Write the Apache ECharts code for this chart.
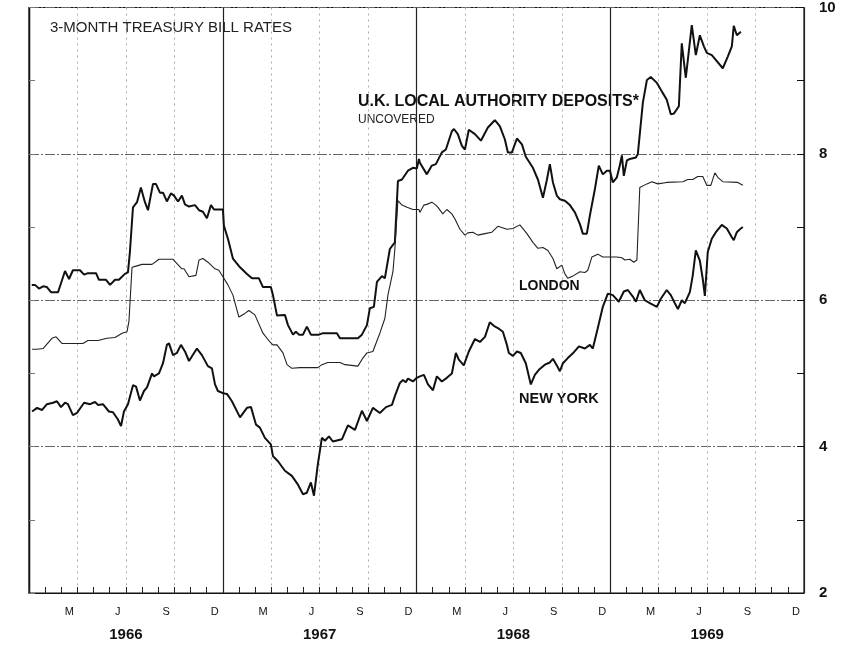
<!DOCTYPE html>
<html>
<head>
<meta charset="UTF-8">
<title>3-Month Treasury Bill Rates</title>
<script src="https://cdn.jsdelivr.net/npm/echarts@6/dist/echarts.min.js"></script>
<style>
  html, body { margin: 0; padding: 0; background: #fff; }
  #chart { width: 844px; height: 645px; }
</style>
</head>
<body>
<div id="chart"></div>
<script>
// x = months since Jan 1966, y = per cent
var ukDeposits = [
  [0.17,6.21],[0.37,6.21],[0.62,6.16],[0.87,6.19],[1.11,6.18],[1.36,6.11],[1.80,6.11],[2.23,6.40],[2.48,6.29],[2.72,6.41],
  [3.16,6.41],[3.41,6.35],[3.65,6.37],[4.15,6.37],[4.33,6.28],[4.77,6.28],[5.02,6.21],[5.33,6.28],[5.57,6.28],[5.94,6.36],
  [6.13,6.38],[6.25,6.66],[6.44,7.27],[6.69,7.34],[6.93,7.54],[7.18,7.34],[7.37,7.23],[7.68,7.59],[7.86,7.59],[8.11,7.47],
  [8.30,7.47],[8.54,7.35],[8.79,7.46],[8.98,7.43],[9.23,7.35],[9.47,7.43],[9.66,7.31],[9.91,7.28],[10.28,7.30],[10.53,7.23],
  [10.77,7.21],[11.02,7.12],[11.27,7.30],[11.46,7.24],[12.01,7.24],[12.07,7.02],[12.32,6.84],[12.63,6.57],[13.07,6.45],[13.50,6.36],
  [13.81,6.30],[14.24,6.30],[14.49,6.18],[14.98,6.18],[15.11,6.07],[15.36,5.79],[15.85,5.80],[16.04,5.66],[16.35,5.53],[16.53,5.57],
  [16.72,5.53],[16.97,5.53],[17.21,5.64],[17.46,5.53],[17.96,5.53],[18.20,5.55],[19.07,5.55],[19.26,5.48],[20.37,5.48],[20.62,5.53],
  [20.93,5.66],[21.11,5.89],[21.36,5.91],[21.55,6.25],[21.86,6.33],[22.04,6.30],[22.35,6.70],[22.66,6.79],[22.85,7.63],[23.10,7.65],
  [23.47,7.77],[23.78,7.81],[24.02,7.80],[24.15,7.93],[24.21,7.88],[24.64,7.72],[24.95,7.84],[25.20,7.86],[25.57,8.02],[25.82,8.06],
  [26.19,8.31],[26.32,8.34],[26.56,8.27],[26.81,8.11],[27.00,8.06],[27.24,8.33],[27.62,8.27],[27.99,8.18],[28.42,8.36],[28.85,8.46],
  [29.16,8.38],[29.47,8.20],[29.66,8.02],[29.91,8.02],[30.22,8.21],[30.53,8.13],[30.77,7.96],[31.21,7.81],[31.52,7.65],[31.83,7.40],
  [32.07,7.64],[32.26,7.86],[32.45,7.61],[32.69,7.43],[32.88,7.38],[33.19,7.36],[33.50,7.30],[33.81,7.20],[34.12,7.04],[34.30,6.91],
  [34.55,6.91],[34.74,7.16],[35.05,7.52],[35.29,7.84],[35.54,7.72],[35.79,7.77],[35.98,7.77],[36.16,7.61],[36.41,7.68],[36.59,7.84],
  [36.72,7.98],[36.84,7.70],[37.03,7.91],[37.21,7.93],[37.59,7.95],[37.71,8.00],[38.02,8.70],[38.27,9.01],[38.51,9.05],[38.89,8.97],
  [39.26,8.83],[39.50,8.74],[39.75,8.54],[39.94,8.55],[40.25,8.65],[40.43,9.51],[40.68,9.04],[41.05,9.76],[41.30,9.35],[41.55,9.62],
  [41.80,9.47],[41.98,9.38],[42.29,9.35],[42.97,9.17],[43.28,9.33],[43.53,9.47],[43.65,9.75],[43.84,9.62],[44.09,9.67]
];

var london = [
  [0.19,5.33],[0.50,5.33],[0.87,5.34],[1.42,5.48],[1.67,5.50],[2.04,5.41],[3.34,5.41],[3.65,5.45],[4.27,5.45],[4.83,5.48],
  [5.33,5.49],[5.76,5.55],[6.07,5.57],[6.19,5.71],[6.38,6.45],[6.69,6.47],[7.00,6.49],[7.62,6.49],[8.05,6.56],[8.92,6.56],
  [9.47,6.43],[9.60,6.43],[9.91,6.32],[10.34,6.34],[10.53,6.55],[10.77,6.57],[11.08,6.52],[11.52,6.43],[11.76,6.41],[12.01,6.32],
  [12.32,6.21],[12.63,6.07],[13.00,5.77],[13.37,5.82],[13.62,5.86],[13.99,5.80],[14.49,5.55],[14.92,5.43],[15.11,5.39],[15.36,5.39],
  [15.73,5.28],[15.98,5.12],[16.28,5.07],[16.78,5.08],[17.89,5.08],[18.14,5.12],[18.51,5.15],[19.26,5.15],[19.57,5.12],[20.37,5.10],
  [20.68,5.21],[20.93,5.28],[21.30,5.30],[21.61,5.48],[21.73,5.55],[22.04,5.75],[22.23,6.07],[22.54,6.39],[22.66,6.70],[22.79,7.16],
  [22.85,7.36],[23.10,7.30],[23.41,7.27],[23.78,7.24],[24.15,7.24],[24.21,7.20],[24.46,7.30],[24.64,7.31],[24.95,7.34],[25.20,7.30],
  [25.33,7.27],[25.63,7.18],[25.88,7.24],[26.19,7.18],[26.38,7.11],[26.69,6.97],[27.00,6.89],[27.18,6.92],[27.49,6.93],[27.80,6.89],
  [28.24,6.91],[28.67,6.93],[29.04,7.01],[29.60,6.97],[29.97,6.98],[30.40,7.03],[30.84,6.91],[31.21,6.79],[31.52,6.71],[31.83,6.72],
  [32.14,6.68],[32.45,6.57],[32.69,6.43],[33.00,6.48],[33.19,6.36],[33.37,6.30],[33.68,6.33],[34.12,6.39],[34.43,6.38],[34.61,6.41],
  [34.86,6.59],[35.23,6.63],[35.54,6.59],[35.98,6.59],[36.41,6.59],[36.72,6.58],[36.90,6.55],[37.21,6.56],[37.46,6.52],[37.65,6.55],
  [37.83,7.54],[38.27,7.59],[38.58,7.62],[38.95,7.59],[39.50,7.61],[40.50,7.62],[40.80,7.65],[41.11,7.65],[41.42,7.69],[41.73,7.69],
  [41.98,7.57],[42.23,7.57],[42.48,7.74],[42.66,7.68],[42.97,7.62],[43.90,7.61],[44.21,7.57]
];

var newYork = [
  [0.19,4.48],[0.50,4.53],[0.80,4.50],[1.11,4.58],[1.49,4.60],[1.73,4.62],[1.98,4.54],[2.23,4.60],[2.41,4.58],[2.72,4.43],
  [2.97,4.46],[3.41,4.60],[3.78,4.58],[4.09,4.61],[4.27,4.57],[4.58,4.58],[4.95,4.48],[5.20,4.47],[5.51,4.37],[5.70,4.28],
  [5.88,4.48],[6.13,4.58],[6.44,4.84],[6.63,4.82],[6.87,4.63],[7.12,4.76],[7.31,4.81],[7.62,5.00],[7.74,4.96],[8.05,5.00],
  [8.30,5.14],[8.54,5.39],[8.67,5.41],[8.92,5.25],[9.16,5.28],[9.41,5.39],[9.66,5.30],[9.91,5.17],[10.40,5.34],[10.71,5.25],
  [11.08,5.10],[11.33,5.07],[11.52,4.85],[11.70,4.76],[12.01,4.73],[12.26,4.72],[12.57,4.62],[13.07,4.40],[13.50,4.53],[13.75,4.54],
  [14.06,4.30],[14.30,4.26],[14.61,4.12],[14.98,4.03],[15.11,3.87],[15.42,3.80],[15.85,3.67],[16.28,3.60],[16.66,3.48],[16.97,3.35],
  [17.21,3.37],[17.46,3.51],[17.65,3.33],[17.89,3.76],[18.14,4.12],[18.33,4.08],[18.58,4.14],[18.82,4.07],[19.38,4.10],[19.75,4.29],
  [20.19,4.23],[20.62,4.49],[20.93,4.35],[21.30,4.53],[21.73,4.46],[22.11,4.54],[22.48,4.57],[22.66,4.69],[22.97,4.87],[23.16,4.91],
  [23.34,4.88],[23.47,4.93],[23.78,4.89],[24.02,4.94],[24.21,4.96],[24.46,4.98],[24.71,4.85],[25.02,4.77],[25.26,4.96],[25.57,4.89],
  [25.88,4.94],[26.19,5.00],[26.44,5.28],[26.62,5.19],[26.93,5.11],[27.24,5.30],[27.62,5.47],[27.93,5.43],[28.24,5.50],[28.54,5.70],
  [28.79,5.65],[29.04,5.62],[29.35,5.57],[29.60,5.39],[29.72,5.28],[29.97,5.24],[30.22,5.30],[30.46,5.28],[30.77,5.14],[31.08,4.85],
  [31.33,4.98],[31.58,5.05],[31.95,5.12],[32.26,5.15],[32.45,5.20],[32.69,5.11],[32.88,5.03],[33.07,5.14],[33.37,5.21],[33.75,5.29],
  [34.06,5.37],[34.43,5.34],[34.74,5.39],[34.92,5.34],[35.23,5.62],[35.54,5.91],[35.85,6.09],[36.16,6.07],[36.53,5.98],[36.84,6.12],
  [37.09,6.14],[37.40,6.05],[37.59,5.98],[37.83,6.14],[38.14,6.00],[38.45,5.96],[38.89,5.91],[39.13,6.02],[39.50,6.14],[39.75,6.07],
  [40.00,5.96],[40.19,5.88],[40.43,6.00],[40.62,5.96],[40.93,6.11],[41.11,6.34],[41.30,6.68],[41.55,6.54],[41.73,6.29],[41.86,6.06],
  [42.04,6.66],[42.29,6.84],[42.54,6.93],[42.91,7.03],[43.22,6.98],[43.53,6.86],[43.65,6.82],[43.84,6.93],[44.03,6.97],[44.21,7.00]
];

var monthLabels = ['', '', 'M', '', '', 'J', '', '', 'S', '', '', 'D'];
var years = ['1966', '1967', '1968', '1969'];

var months = [];
years.forEach(function (y) {
  monthLabels.forEach(function (m) { months.push(m); });
});

var font = 'Liberation Sans, Arial, sans-serif';
var chart = echarts.init(document.getElementById('chart'));

var option = {
  backgroundColor: '#fff',
  animation: false,
  grid: {
    left: 29, right: 40, top: 4, bottom: 52,
    show: true, borderColor: '#111', borderWidth: 1.2
  },
  xAxis: [
    { type: 'value', min: 0, max: 48, show: false },
    {
      type: 'category', data: months, boundaryGap: true, position: 'bottom',
      axisLine: { show: true, lineStyle: { color: '#111', width: 1.2 } },
      axisTick: { show: true, inside: true, length: 6, interval: 0, lineStyle: { color: '#222' } },
      axisLabel: { interval: 0, margin: 13, color: '#111', fontSize: 11, fontFamily: font },
      splitLine: {
        show: true,
        interval: function (i) { return i % 3 === 0; },
        lineStyle: { color: '#aaa', type: [2, 4], width: 1 }
      }
    },
    {
      type: 'category', data: years, boundaryGap: true, position: 'bottom',
      axisLine: { show: false }, axisTick: { show: false },
      axisLabel: { margin: 34, color: '#111', fontSize: 15, fontWeight: 'bold', fontFamily: font },
      splitLine: { show: true, lineStyle: { color: '#222', width: 1.2 } }
    }
  ],
  yAxis: [
    {
      type: 'value', position: 'right', min: 2, max: 10, interval: 2,
      axisLine: { show: true, lineStyle: { color: '#111', width: 1.2 } },
      axisTick: { show: false },
      axisLabel: { margin: 15, color: '#111', fontSize: 15, fontWeight: 'bold', fontFamily: font },
      splitLine: { show: true, lineStyle: { color: '#666', width: 1, type: [10, 2, 2, 2] } }
    },
    {
      type: 'value', position: 'right', min: 2, max: 10, interval: 1,
      axisLine: { show: false },
      axisTick: { show: true, inside: true, length: 7, lineStyle: { color: '#111' } },
      axisLabel: { show: false }, splitLine: { show: false }
    },
    {
      type: 'value', position: 'left', min: 2, max: 10, interval: 1,
      axisLine: { show: true, lineStyle: { color: '#111', width: 1.2 } },
      axisTick: { show: true, inside: true, length: 6, lineStyle: { color: '#777' } },
      axisLabel: { show: false }, splitLine: { show: false }
    }
  ],
  series: [
    {
      name: 'U.K. Local Authority Deposits', type: 'line', data: ukDeposits,
      xAxisIndex: 0, yAxisIndex: 0, symbol: 'none',
      lineStyle: { color: '#111', width: 2 }
    },
    {
      name: 'London', type: 'line', data: london,
      xAxisIndex: 0, yAxisIndex: 0, symbol: 'none',
      lineStyle: { color: '#222', width: 1.1 }
    },
    {
      name: 'New York', type: 'line', data: newYork,
      xAxisIndex: 0, yAxisIndex: 0, symbol: 'none',
      lineStyle: { color: '#111', width: 2 }
    }
  ],
  graphic: [
    { type: 'text', left: 50, top: 20, style: { text: '3-MONTH TREASURY BILL RATES', fill: '#222', font: '15px ' + font } },
    { type: 'text', left: 358, top: 94, style: { text: 'U.K. LOCAL AUTHORITY DEPOSITS*', fill: '#111', font: 'bold 16px ' + font } },
    { type: 'text', left: 358, top: 114, style: { text: 'UNCOVERED', fill: '#222', font: '12px ' + font } },
    { type: 'text', left: 519, top: 279, style: { text: 'LONDON', fill: '#111', font: 'bold 14px ' + font } },
    { type: 'text', left: 519, top: 391, style: { text: 'NEW YORK', fill: '#111', font: 'bold 14.5px ' + font } }
  ]
};

chart.setOption(option);
</script>
</body>
</html>
